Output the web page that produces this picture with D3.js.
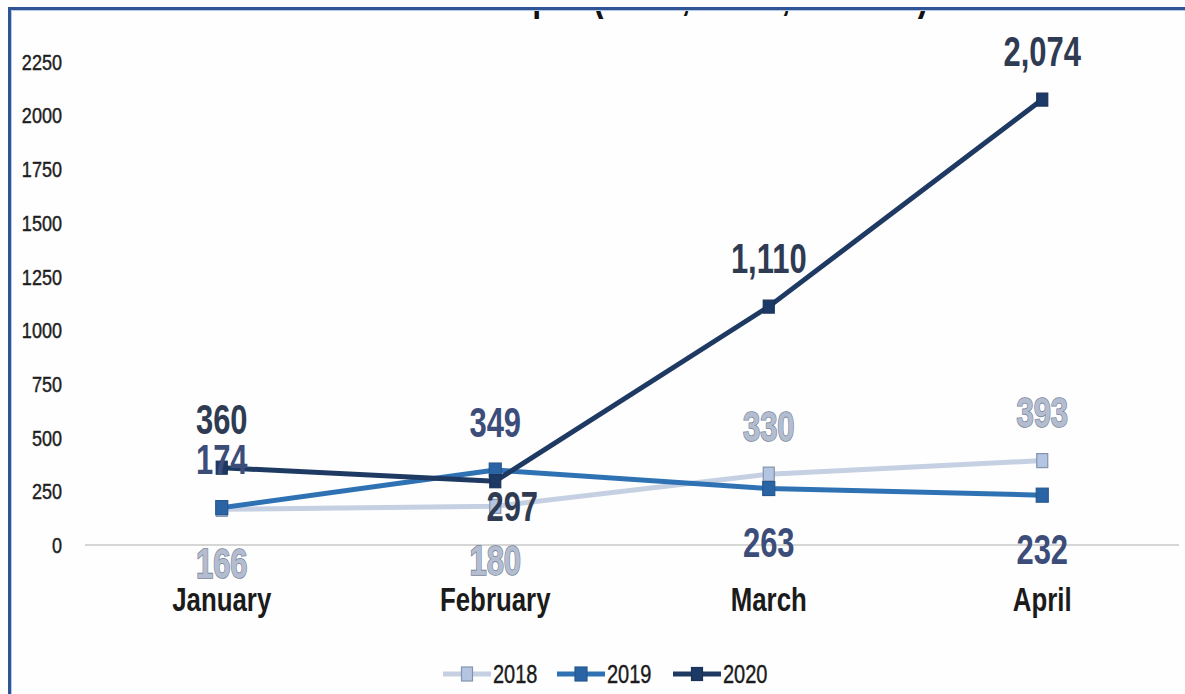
<!DOCTYPE html>
<html>
<head>
<meta charset="utf-8">
<script src="https://cdn.jsdelivr.net/npm/d3@7/dist/d3.min.js"></script>
<style>
  html, body { margin: 0; padding: 0; background: #ffffff; }
  svg { display: block; }
  text { font-family: "Liberation Sans", Arial, sans-serif; }
</style>
</head>
<body>
<svg id="chart" width="1185" height="694"></svg>
<script>
// Monthly counts, January–April, for three years
const months = ["January", "February", "March", "April"];
const years = ["2018", "2019", "2020"];
const values2018 = [166, 180, 330, 393];
const values2019 = [174, 349, 263, 232];
const values2020 = [360, 297, 1110, 2074];
const yTicks = [0, 250, 500, 750, 1000, 1250, 1500, 1750, 2000, 2250];
// where each value label sits relative to its point: t = above, b = below, br = below right
const place2018 = ["b", "b", "t", "t"];
const place2019 = ["t", "t", "b", "b"];
const place2020 = ["t", "br", "t", "t"];
// visible lower part of the heading
const headingGlyphs = ["p", "(", ",", ",", ")"];

const svg = d3.select("#chart");
const W = 1185, H = 694;

svg.append("rect").attr("width", W).attr("height", H).attr("fill", "#fefefe");

const x = d3.scalePoint().domain(months).range([85, 1179]).padding(0.5);
const y = d3.scaleLinear().domain([0, 2250]).range([545, 61.8]);

const series = [
  { name: years[0], values: values2018, place: place2018,
    line: "#c5d0e2", width: 5, mFill: "#b4c5e2", mStroke: "#8393ad", mw: 11, mh: 14,
    label: "#b3bdcf", labelStroke: "#75839a" },
  { name: years[1], values: values2019, place: place2019,
    line: "#2f72b4", width: 5, mFill: "#2a64a4", mStroke: "#27578f", mw: 12, mh: 14,
    label: "#3c4d7a", labelStroke: null },
  { name: years[2], values: values2020, place: place2020,
    line: "#1e3a63", width: 5, mFill: "#1d3a66", mStroke: "#1a3258", mw: 11, mh: 13,
    label: "#2e3b52", labelStroke: null }
];

// condensed text helper: narrow look via horizontal scaling
function narrowText(g, str, cx, baseline, size, sx, anchor) {
  return g.append("text")
    .attr("transform", `translate(${cx},${baseline}) scale(${sx},1)`)
    .attr("text-anchor", anchor || "middle")
    .attr("font-size", size)
    .text(str);
}

// heading remnants, clipped at the frame
svg.append("clipPath").attr("id", "headClip")
  .append("rect").attr("x", 0).attr("y", 10).attr("width", W).attr("height", 40);
const head = svg.append("g").attr("clip-path", "url(#headClip)");
const headX = [542, 598, 686, 786, 923];
headingGlyphs.forEach((c, i) => {
  narrowText(head, c, headX[i], 9, 46, 0.7).attr("font-weight", "bold").attr("fill", "#111");
});

// y axis labels
const yAxis = svg.append("g");
yTicks.forEach(t => {
  narrowText(yAxis, String(t), 62, y(t) + 8, 22, 0.82, "end")
    .attr("fill", "#1e1e1e").attr("stroke", "#1e1e1e").attr("stroke-width", 0.45);
});

// baseline
svg.append("line")
  .attr("x1", 85).attr("x2", 1179)
  .attr("y1", y(0)).attr("y2", y(0))
  .attr("stroke", "#c8c8c8").attr("stroke-width", 1.5);

// month labels
const xAxis = svg.append("g");
months.forEach(m => {
  narrowText(xAxis, m, x(m), 611, 34, 0.76).attr("font-weight", "bold").attr("fill", "#1b1b1b");
});

// lines and markers
const lineGen = d3.line().x((d, i) => x(months[i])).y(d => y(d));
series.forEach(s => {
  svg.append("path")
    .attr("d", lineGen(s.values))
    .attr("fill", "none")
    .attr("stroke", s.line)
    .attr("stroke-width", s.width)
    .attr("stroke-linejoin", "round");
  svg.append("g").selectAll("rect").data(s.values).join("rect")
    .attr("x", (d, i) => x(months[i]) - s.mw / 2)
    .attr("y", d => y(d) - s.mh / 2)
    .attr("width", s.mw).attr("height", s.mh)
    .attr("fill", s.mFill).attr("stroke", s.mStroke).attr("stroke-width", 1.2);
});

// value labels
const fmt = d3.format(",");
series.forEach(s => {
  const g = svg.append("g");
  s.values.forEach((v, i) => {
    const p = s.place[i];
    let cx = x(months[i]), cy = y(v);
    if (p === "t") cy -= 49;
    else if (p === "b") cy += 53;
    else { cy += 24; cx += 17; }
    const t = narrowText(g, fmt(v), cx, cy + 15.5, 43, 0.72)
      .attr("font-weight", "bold")
      .attr("fill", s.label);
    if (s.labelStroke) {
      t.attr("stroke", s.labelStroke).attr("stroke-width", 1.6).attr("paint-order", "stroke");
    }
  });
});

// legend
const legend = svg.append("g");
const legX = [443, 557, 673];
series.forEach((s, i) => {
  const x0 = legX[i], yc = 674;
  legend.append("line")
    .attr("x1", x0).attr("x2", x0 + 48).attr("y1", yc).attr("y2", yc)
    .attr("stroke", s.line).attr("stroke-width", 5);
  legend.append("rect")
    .attr("x", x0 + 24 - s.mw / 2).attr("y", yc - s.mh / 2)
    .attr("width", s.mw).attr("height", s.mh)
    .attr("fill", s.mFill).attr("stroke", s.mStroke).attr("stroke-width", 1.2);
  narrowText(legend, s.name, x0 + 50, yc + 9, 25, 0.8, "start")
    .attr("fill", "#1b1b1b").attr("stroke", "#1b1b1b").attr("stroke-width", 0.4);
});

// frame
svg.append("line").attr("x1", 8).attr("x2", W).attr("y1", 8.5).attr("y2", 8.5)
  .attr("stroke", "#2f5597").attr("stroke-width", 3);
svg.append("line").attr("x1", 9.5).attr("x2", 9.5).attr("y1", 7).attr("y2", H)
  .attr("stroke", "#2f5597").attr("stroke-width", 3);
svg.append("line").attr("x1", 11).attr("x2", W).attr("y1", 10.5).attr("y2", 10.5)
  .attr("stroke", "#b7c9e6").attr("stroke-width", 1);
svg.append("line").attr("x1", 11.5).attr("x2", 11.5).attr("y1", 10).attr("y2", H)
  .attr("stroke", "#b7c9e6").attr("stroke-width", 1);
</script>
</body>
</html>
